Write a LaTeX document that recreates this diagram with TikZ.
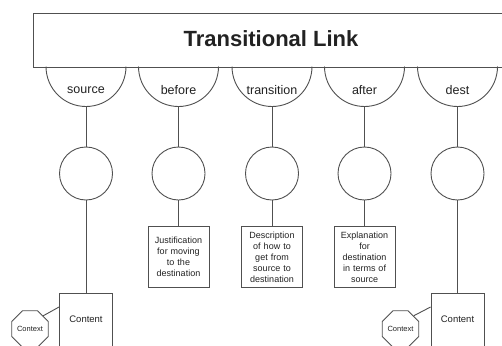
\documentclass[tikz,border=0pt]{standalone}
\usepackage{fontspec}
\setmainfont{Liberation Sans}
\usetikzlibrary{shapes.geometric}
\definecolor{ln}{HTML}{505050}
\definecolor{tx}{HTML}{222222}
\tikzset{
  conn/.style={draw=ln, line width=0.9pt},
  shp/.style={draw=ln, line width=0.9pt, fill=white},
  ring/.style={shp, circle, minimum size=53pt, inner sep=0pt},
  notebox/.style={shp, rectangle, minimum width=61pt, minimum height=61pt, inner sep=0pt, text width=58pt, align=center, font=\fontsize{9}{11}\selectfont, text=tx},
  contbox/.style={shp, rectangle, minimum width=53pt, minimum height=80pt, inner sep=0pt, anchor=north},
  ctxshape/.style={shp, regular polygon, regular polygon sides=8, minimum size=39pt, inner sep=0pt, font=\fontsize{7.5}{9}\selectfont, text=tx},
  semilabel/.style={font=\fontsize{12.5}{14}\selectfont, text=tx, inner sep=0pt},
  plain/.style={font=\fontsize{9.5}{11}\selectfont, text=tx, inner sep=0pt}
}
\begin{document}
\begin{tikzpicture}[x=1pt,y=-1pt]
\useasboundingbox (0,0) rectangle (502,345);
\clip (0,0) rectangle (502,345);
\fill[white] (0,0) rectangle (502,345);
% title bar
\node[shp, rectangle, anchor=north west, minimum width=500pt, minimum height=53.5pt, inner sep=0pt] (title) at (33,13) {};
\node[font=\bfseries\fontsize{22}{24}\selectfont, text=tx, inner sep=0pt] (titletext) at (271,38.5) {Transitional Link};
% semicircles
\foreach \cx/\name/\lab in {86/s1/source, 178.5/s2/before, 272/s3/transition, 364.5/s4/after, 457.5/s5/dest}{
  \draw[conn] (\cx-40,66.5) arc[start angle=180, end angle=360, radius=40pt];
  \coordinate (\name b) at (\cx,106.5);
  \node[semilabel] (\name) at (\cx,90) {\lab};
}
% circles
\node[ring] (r1) at (86,173.5) {};
\node[ring] (r2) at (178.5,173.5) {};
\node[ring] (r3) at (272,173.5) {};
\node[ring] (r4) at (364.5,173.5) {};
\node[ring] (r5) at (457.5,173.5) {};
\foreach \i in {1,...,5}{ \draw[conn] (s\i b) -- (r\i.north); }
% note boxes
\node[notebox] (n2) at (178.5,257) {Justification\\for moving\\to the\\destination};
\node[notebox] (n3) at (272,257) {Description\\of how to\\get from\\source to\\destination};
\node[notebox] (n4) at (364.5,257) {Explanation\\for\\destination\\in terms of\\source};
\draw[conn] (r2.south) -- (n2.north);
\draw[conn] (r3.south) -- (n3.north);
\draw[conn] (r4.south) -- (n4.north);
% content boxes
\node[contbox] (c1) at (86,293) {};
\node[plain] (c1t) at (86,319) {Content};
\node[contbox] (c5) at (457.5,293) {};
\node[plain] (c5t) at (457.5,319) {Content};
\draw[conn] (r1.south) -- (c1.north);
\draw[conn] (r5.south) -- (c5.north);
% context octagons
\node[ctxshape] (x1) at (30,329) {Context};
\node[ctxshape] (x5) at (400.5,329) {Context};
\draw[conn] (x1.45) -- ([yshift=-14pt]c1.north west);
\draw[conn] (x5.45) -- ([yshift=-14pt]c5.north west);
\end{tikzpicture}
\end{document}
